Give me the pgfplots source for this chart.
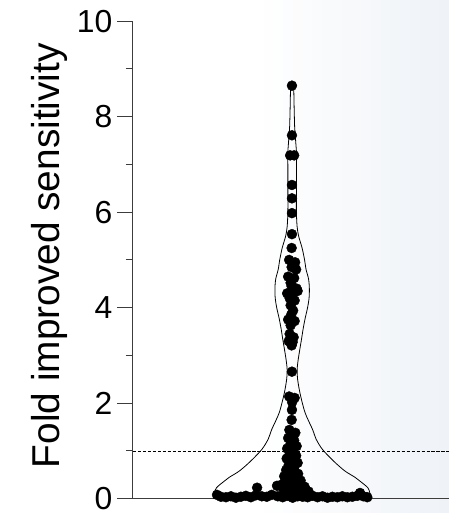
\documentclass[border=0pt]{standalone}
\usepackage{fontspec}
\setmainfont{Liberation Sans}
\usepackage{pgfplots}
\pgfplotsset{compat=1.18}
\definecolor{axgray}{RGB}{60,60,60}
\definecolor{bgblue}{RGB}{238,242,247}
\pgfplotsset{common/.style={scale only axis, width=317.5pt, height=479.7pt,
  xmin=133.5, xmax=451, ymin=0, ymax=10, clip=false}}
\begin{document}
\begin{tikzpicture}
\begin{axis}[common, hide axis]
\pgfplotsinvokeforeach{0,5,...,100}{
  \fill[bgblue!#1!white] (axis cs:{255+1.96*#1},-0.30) rectangle (axis cs:{275+1.96*#1},10.444);
}
\end{axis}
\begin{axis}[
  common,
  axis lines=left, axis line style={-, line width=1pt, axgray},
  xtick=\empty,
  ytick={0,2,4,6,8,10}, minor ytick={1,3,5,7,9},
  tick align=outside, major tick length=15.5pt, minor tick length=7pt,
  tick style={line width=1pt, axgray},
  yticklabel style={font=\fontsize{32}{36}\selectfont, inner sep=0pt, xshift=-5pt},
  /pgf/number format/assume math mode=true,
  ylabel={Fold improved sensitivity},
  ylabel style={font=\fontsize{39}{44}\selectfont, at={(axis description cs:-0.2072,0.509)}, anchor=south, inner sep=0pt},
]
% violin left side
\addplot[smooth, tension=0.5, line width=0.8pt, black] coordinates {
(215.5,0.03) (215.5,0.12) (217.5,0.23) (225.5,0.37) (230.5,0.45) (240.5,0.58) (251.5,0.78) (263,1.03) (269.5,1.25) (273,1.45) (280.5,1.8) (285.5,2.2) (288,2.5) (288.5,2.7) (287.5,2.9) (286,3.1) (284,3.35) (282.5,3.55) (280.5,3.77) (278,4.0) (276.5,4.2) (276.2,4.4) (277,4.6) (279.5,4.8) (281,5.0) (283.5,5.25) (287,5.5) (288.5,5.7) (289.2,6.0) (289.2,6.5) (289.2,7.0) (289,7.2) (290,7.5) (291,7.8) (291.5,8.2) (292,8.6) (293.5,8.72)
};
% violin right side
\addplot[smooth, tension=0.5, line width=0.8pt, black] coordinates {
(371.5,0.03) (371.5,0.12) (369.5,0.23) (361.5,0.37) (356.5,0.45) (346.5,0.58) (335.5,0.78) (324,1.03) (317.5,1.25) (314,1.45) (306.5,1.8) (301.5,2.2) (299,2.5) (298.5,2.7) (299.5,2.9) (301,3.1) (303,3.35) (304.5,3.55) (306.5,3.77) (309,4.0) (310.5,4.2) (310.8,4.4) (310,4.6) (307.5,4.8) (306,5.0) (303.5,5.25) (300,5.5) (298.5,5.7) (297.8,6.0) (297.8,6.5) (297.8,7.0) (298,7.2) (297,7.5) (296,7.8) (295.5,8.2) (295,8.6) (293.5,8.72)
};
% threshold
\addplot[line width=0.8pt, black, dash pattern=on 3.3pt off 1.7pt] coordinates {(133.5,1) (451,1)};
% data points
\addplot[only marks, mark=*, mark size=5pt, black] coordinates {
(293.3,8.65) (293.3,7.61) (291.5,7.19) (295.5,7.19) (293.3,6.57) (293.3,6.29) (293.3,5.98) (293.3,5.54) (293.0,5.25)
(290.5,5.00) (296.5,4.95) (293,4.85) (297.5,4.80) (289.5,4.65) (295.5,4.62) (292,4.52) (293,4.45) (298,4.40) (288.5,4.30) (294,4.28) (299,4.35) (291,4.20) (296,4.15) (292,4.05) (294.5,3.94) (292.5,3.85) (289.5,3.75) (296,3.72) (292,3.63) (291,3.45) (295,3.38) (290,3.30) (293,3.21) (294,3.28)
(293.3,2.66) (290.5,2.14) (296.0,2.11) (293.5,2.02) (293.3,1.86) (293.0,1.65) (290.7,1.44) (296.7,1.38) (289.5,1.27) (295.5,1.22) (292.0,1.15) (298.0,1.10) (288.5,1.05) (294.0,1.00) (291.0,0.93) (297.5,0.90) (288.0,0.84) (293.5,0.80) (299.0,0.75) (290.0,0.70) (295.5,0.65) (287.5,0.60) (292.5,0.55) (299.5,0.52) (285.5,0.47) (290.5,0.43) (296.0,0.42) (302.0,0.38) (288.0,0.35) (294.0,0.33) (283.5,0.30) (278.3,0.27) (299.0,0.28) (306.0,0.25) (291.0,0.22) (285.0,0.18) (258.3,0.23) (302.0,0.17) (310.0,0.15) (296.0,0.14) (289.0,0.12) (361.7,0.12)
(218,0.08) (222,0.04) (227,0.03) (232,0.05) (237,0.02) (242,0.04) (247,0.06) (252,0.03) (257,0.07) (263,0.05) (268,0.04) (273,0.08) (279,0.05) (284,0.03) (289,0.06) (294,0.02) (299,0.05) (304,0.04) (309,0.03) (314,0.06) (319,0.03) (324,0.05) (329,0.02) (334,0.04) (339,0.03) (344,0.05) (349,0.03) (354,0.04) (359,0.06) (365,0.05) (369,0.03)
};
\coordinate (bl) at (axis cs:0,-0.30);
\coordinate (tr) at (axis cs:451,10.444);
\end{axis}
\pgfresetboundingbox
\useasboundingbox (bl) rectangle (tr);
\end{tikzpicture}
\end{document}
